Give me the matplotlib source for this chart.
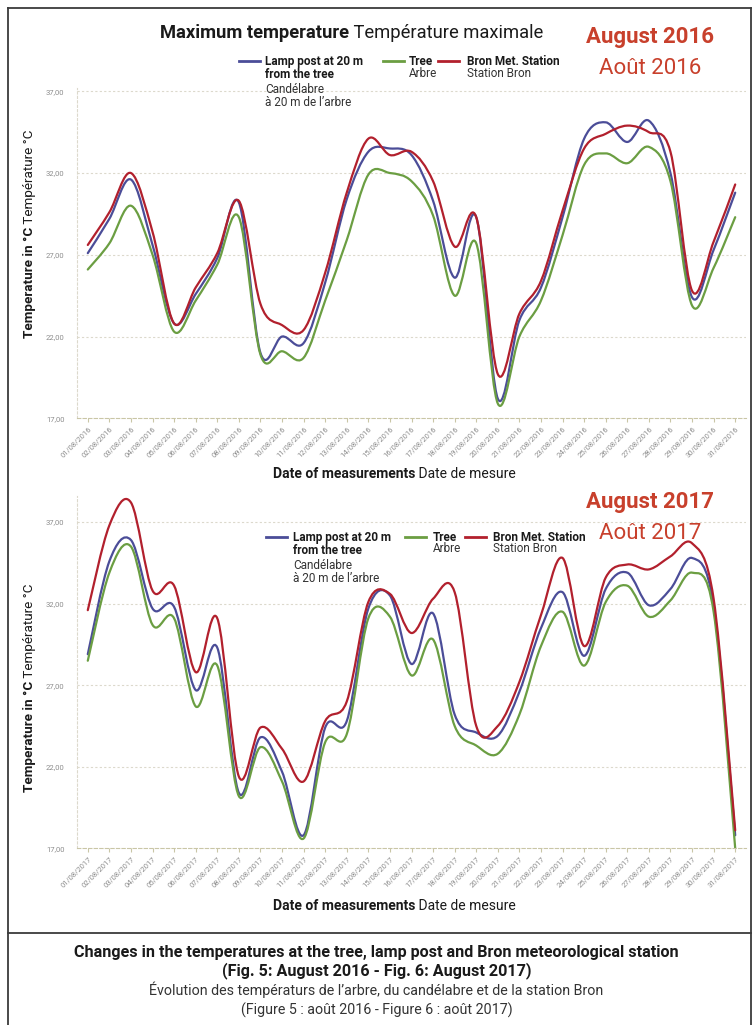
"""
Maximum temperature at the tree, the lamp post and Bron station,
August 2016 (top) and August 2017 (bottom).
"""

import matplotlib
matplotlib.use("Agg")
import matplotlib.pyplot as plt
from matplotlib.path import Path
from matplotlib.patches import PathPatch
from matplotlib.lines import Line2D

# ---- data ---------------------------------------------------------------
DAYS = list(range(1, 32))

LAMP_2016 = [27.1, 29.2, 31.6, 27.6, 22.8, 24.6, 26.8, 30.2, 21.0, 22.0,
             21.6, 25.3, 30.4, 33.3, 33.5, 33.1, 30.3, 25.6, 29.3, 18.2,
             23.0, 25.0, 29.3, 34.1, 35.1, 33.9, 35.2, 32.0, 24.4, 27.3, 30.8]
TREE_2016 = [26.1, 27.7, 30.0, 27.0, 22.3, 24.2, 26.4, 29.3, 20.9, 21.1,
             20.7, 24.2, 27.9, 31.9, 32.0, 31.5, 29.4, 24.5, 27.7, 17.9,
             22.0, 24.2, 28.2, 32.5, 33.2, 32.6, 33.6, 31.5, 23.9, 26.2, 29.3]
BRON_2016 = [27.6, 29.6, 32.0, 28.4, 22.8, 25.0, 27.1, 30.3, 24.0, 22.7,
             22.4, 25.9, 30.8, 34.1, 33.1, 33.3, 31.5, 27.5, 29.3, 19.7,
             23.4, 25.4, 29.7, 33.5, 34.4, 34.9, 34.5, 33.3, 24.8, 27.8, 31.3]

LAMP_2017 = [28.9, 34.6, 35.9, 31.7, 31.8, 26.7, 29.3, 20.4, 23.8, 21.7,
             17.8, 24.4, 24.8, 31.7, 32.5, 28.3, 31.4, 25.2, 24.1, 23.9,
             26.6, 30.5, 32.7, 28.8, 32.9, 33.9, 31.9, 32.9, 34.8, 31.9, 17.8]
TREE_2017 = [28.5, 33.9, 35.5, 30.7, 31.1, 25.7, 28.2, 20.2, 23.2, 21.1,
             17.6, 23.5, 24.0, 31.1, 31.2, 27.6, 29.8, 24.5, 23.3, 22.8,
             25.2, 29.4, 31.5, 28.2, 32.1, 33.1, 31.2, 32.2, 33.9, 31.5, 17.0]
BRON_2017 = [31.6, 36.8, 38.2, 32.8, 33.1, 27.8, 31.1, 21.4, 24.4, 23.1,
             21.1, 24.8, 26.0, 32.1, 32.6, 30.2, 32.3, 32.7, 24.5, 24.5,
             27.2, 31.3, 34.8, 29.4, 33.6, 34.4, 34.1, 34.9, 35.7, 32.3, 18.1]

Y_TICKS = [17, 22, 27, 32, 37]
Y_LABELS = ["17,00", "22,00", "27,00", "32,00", "37,00"]
X_LABELS_2016 = [f"{d:02d}/08/2016" for d in DAYS]
X_LABELS_2017 = [f"{d:02d}/08/2017" for d in DAYS]

# ---- style -------------------------------------------------------------
BLUE = "#4b4d98"
GREEN = "#6b9e42"
RED = "#b2202d"
ACCENT = "#c8402c"
GRID = "#dcd9cc"
AXIS = "#c9c6a6"
TICK_GREY = "#8c8c8c"
INK = "#1a1a1a"

plt.rcParams["font.family"] = ["Roboto", "DejaVu Sans"]

W, H = 753, 1025
fig = plt.figure(figsize=(W / 100, H / 100), dpi=100)
fig.patch.set_facecolor("white")


def fx(px):
    return px / W


def fy(py):
    return 1 - py / H


def smooth_line(ax, xs, ys, color):
    """Excel-like smoothed line: cubic Bezier segments through every point."""
    pts = list(zip(xs, ys))
    n = len(pts)
    verts = [pts[0]]
    codes = [Path.MOVETO]
    for i in range(n - 1):
        p0 = pts[max(i - 1, 0)]
        p1 = pts[i]
        p2 = pts[i + 1]
        p3 = pts[min(i + 2, n - 1)]
        c1 = (p1[0] + (p2[0] - p0[0]) / 6, p1[1] + (p2[1] - p0[1]) / 6)
        c2 = (p2[0] - (p3[0] - p1[0]) / 6, p2[1] - (p3[1] - p1[1]) / 6)
        verts += [c1, c2, p2]
        codes += [Path.CURVE4] * 3
    ax.add_patch(PathPatch(Path(verts, codes), fill=False, edgecolor=color,
                           lw=1.6, capstyle="round", joinstyle="round"))


def two_part(x, y, bold, regular, size, color=INK):
    """Bold text then regular text; (x, y) is the left end of the baseline."""
    t1 = fig.text(fx(x), fy(y), bold, fontsize=size, fontweight="bold",
                  color=color, ha="left", va="baseline")
    fig.add_artist(plt.Annotation(" " + regular, xy=(1, 0), xycoords=t1,
                                  fontsize=size, color=color, ha="left",
                                  va="bottom", annotation_clip=False))


def two_part_vertical(x, y, bold, regular, size, color=INK):
    """Rotated version: (x, y) is the centre-x / bottom-y of the bold part."""
    t1 = fig.text(fx(x), fy(y), bold, fontsize=size, fontweight="bold",
                  color=color, ha="center", va="bottom", rotation=90)
    fig.add_artist(plt.Annotation(" " + regular, xy=(0.5, 1), xycoords=t1,
                                  fontsize=size, color=color, ha="center",
                                  va="bottom", rotation=90,
                                  annotation_clip=False))


def legend_entry(x_line, x_text, y, color, bold, regular):
    """Short line sample followed by a bold English and regular French label."""
    fig.add_artist(Line2D([fx(x_line), fx(x_line + 21)], [fy(y), fy(y)],
                          color=color, lw=2.0, transform=fig.transFigure))
    fig.text(fx(x_text), fy(y - 6), bold, fontsize=8.5, fontweight="bold",
             color=INK, ha="left", va="top", linespacing=0.95)
    nb = bold.count("\n") + 1
    # the two-line English label leaves a small gap before the French one
    y_reg = y - 6 + 11.5 * nb + (5 if nb > 1 else 0)
    fig.text(fx(x_text), fy(y_reg), regular, fontsize=8.5,
             color="#333333", ha="left", va="top", linespacing=1.0)


def panel(rect, lamp, tree, bron, ymax, xlabels):
    ax = fig.add_axes(rect)
    ax.set_xlim(0.5, 31.5)
    ax.set_ylim(17, ymax)
    for yv in Y_TICKS[1:]:
        ax.axhline(yv, color=GRID, lw=0.8, ls=(0, (2, 2)), zorder=0)
    for s in ["top", "right"]:
        ax.spines[s].set_visible(False)
    ax.spines["left"].set_color(GRID)
    ax.spines["left"].set_linestyle((0, (2, 2)))
    ax.spines["bottom"].set_color(AXIS)
    ax.spines["bottom"].set_linestyle((0, (3, 2)))
    ax.set_yticks(Y_TICKS, Y_LABELS)
    ax.set_xticks(DAYS, xlabels, rotation=45, ha="right", rotation_mode="anchor")
    ax.tick_params(axis="y", length=0, pad=9, labelsize=5.5,
                   labelcolor=TICK_GREY)
    ax.tick_params(axis="x", length=3, color=AXIS, pad=2, labelsize=5.5,
                   labelcolor=TICK_GREY)
    ax.patch.set_alpha(0)
    smooth_line(ax, DAYS, lamp, BLUE)
    smooth_line(ax, DAYS, tree, GREEN)
    smooth_line(ax, DAYS, bron, RED)
    return ax


# ---- panels ------------------------------------------------------------
panel([fx(77), fy(418.3), fx(746) - fx(77), (418.3 - 88) / H],
      LAMP_2016, TREE_2016, BRON_2016, 37.2, X_LABELS_2016)
panel([fx(77), fy(848.3), fx(746) - fx(77), (848.3 - 496) / H],
      LAMP_2017, TREE_2017, BRON_2017, 38.6, X_LABELS_2017)

# ---- titles and labels -------------------------------------------------
two_part(160, 38, "Maximum temperature", "Température maximale", 13.2)

fig.text(fx(714), fy(43), "August 2016", fontsize=16, fontweight="bold",
         color=ACCENT, ha="right", va="baseline")
fig.text(fx(650), fy(74), "Août 2016", fontsize=16, color=ACCENT,
         ha="center", va="baseline")
fig.text(fx(714), fy(508), "August 2017", fontsize=16, fontweight="bold",
         color=ACCENT, ha="right", va="baseline")
fig.text(fx(650), fy(539), "Août 2017", fontsize=16, color=ACCENT,
         ha="center", va="baseline")

legend_entry(239, 265, 61, BLUE, "Lamp post at 20 m\nfrom the tree",
             "Candélabre\nà 20 m de l’arbre")
legend_entry(383, 409, 61, GREEN, "Tree", "Arbre")
legend_entry(438, 467, 61, RED, "Bron Met. Station", "Station Bron")

legend_entry(266, 293, 537, BLUE, "Lamp post at 20 m\nfrom the tree",
             "Candélabre\nà 20 m de l’arbre")
legend_entry(405, 433, 537, GREEN, "Tree", "Arbre")
legend_entry(465, 493, 537, RED, "Bron Met. Station", "Station Bron")

two_part_vertical(30, 338, "Temperature in °C", "Température °C", 9.7)
two_part_vertical(30, 792, "Temperature in °C", "Température °C", 9.7)
two_part(273, 478, "Date of measurements", "Date de mesure", 10)
two_part(273, 910, "Date of measurements", "Date de mesure", 10)

# ---- caption -----------------------------------------------------------
fig.text(0.5, fy(957), "Changes in the temperatures at the tree, lamp post "
         "and Bron meteorological station", fontsize=11.6, fontweight="bold",
         ha="center", va="baseline", color=INK)
fig.text(0.5, fy(975), "(Fig. 5: August 2016 - Fig. 6: August 2017)",
         fontsize=11.6, fontweight="bold", ha="center", va="baseline",
         color=INK)
fig.text(0.5, fy(995), "Évolution des températurs de l’arbre, du candélabre "
         "et de la station Bron", fontsize=10.3, ha="center", va="baseline",
         color="#333333")
fig.text(0.5, fy(1015), "(Figure 5 : août 2016 - Figure 6 : août 2017)",
         fontsize=10.3, ha="center", va="baseline", color="#333333")

# ---- frame ---------------------------------------------------------------
frame = dict(color="#3a3a3a", lw=1.3, transform=fig.transFigure)
fig.add_artist(Line2D([fx(8), fx(8)], [fy(8), 0], **frame))
fig.add_artist(Line2D([fx(8), fx(751)], [fy(8), fy(8)], **frame))
fig.add_artist(Line2D([fx(751), fx(751)], [fy(8), 0], **frame))
fig.add_artist(Line2D([fx(8), fx(751)], [fy(933), fy(933)], **frame))

fig.savefig("out.png", dpi=100)
